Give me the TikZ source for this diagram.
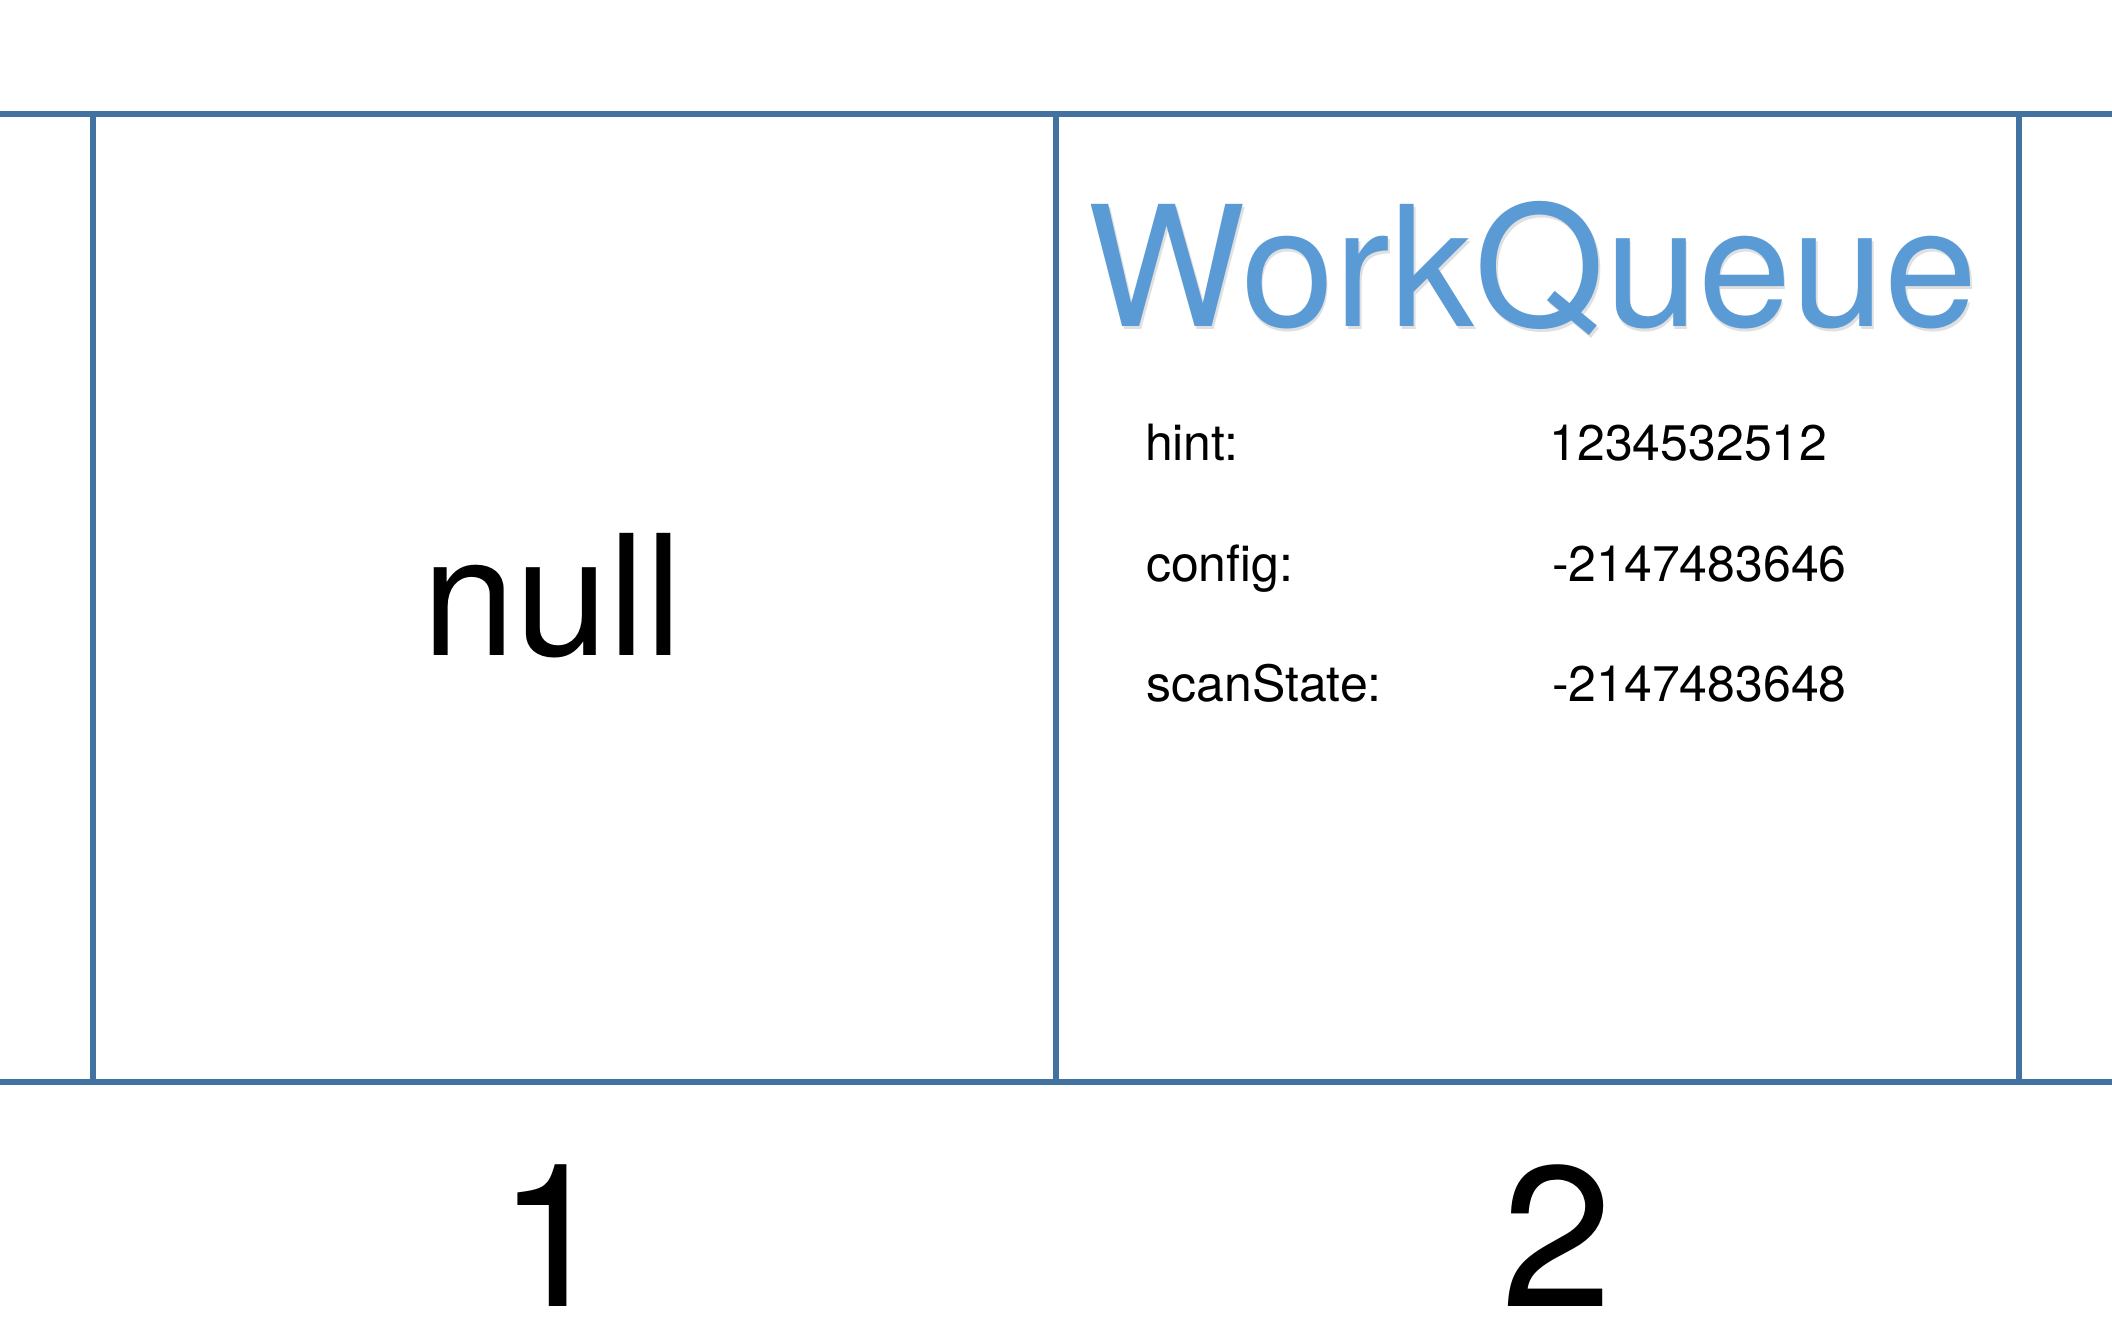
\documentclass[tikz,border=0pt]{standalone}
\usepackage{fontspec}
\setmainfont{TeX Gyre Heros}
\definecolor{gridline}{RGB}{66,114,159}
\definecolor{titleblue}{RGB}{91,155,213}
\tikzset{
  gridrule/.style={draw=gridline, line width=5.7pt},
  txt/.style={inner sep=0pt, outer sep=0pt, anchor=base west, text=black},
  fieldtxt/.style={txt, font=\fontsize{50}{60}\selectfont},
  bigtxt/.style={txt, font=\fontsize{167.6}{200}\selectfont},
  idxtxt/.style={txt, font=\fontsize{200}{240}\selectfont},
  titletxt/.style={txt, text=titleblue, font=\fontsize{167.6}{200}\selectfont},
  shadowtxt/.style={txt, text=black, opacity=0.12, font=\fontsize{167.6}{200}\selectfont}
}
\begin{document}
\begin{tikzpicture}[x=1pt, y=-1pt]
\useasboundingbox[fill=white] (0,0) rectangle (2112,1340);
% grid
\coordinate (tl) at (0,114);
\coordinate (tr) at (2112,114);
\coordinate (bl) at (0,1082);
\coordinate (br) at (2112,1082);
\coordinate (v1t) at (93,114);
\coordinate (v1b) at (93,1082);
\coordinate (v2t) at (1056,114);
\coordinate (v2b) at (1056,1082);
\coordinate (v3t) at (2019,114);
\coordinate (v3b) at (2019,1082);
\draw[gridrule] (tl) -- (tr);
\draw[gridrule] (bl) -- (br);
\draw[gridrule] (v1t) -- (v1b);
\draw[gridrule] (v2t) -- (v2b);
\draw[gridrule] (v3t) -- (v3b);
% cell 1
\node[bigtxt] (null) at (422,655.7) {null};
% cell 2
\node[shadowtxt] (titleshadow) at (1089.5,329.5) {WorkQueue};
\node[titletxt] (title) at (1087.8,326.6) {WorkQueue};
\node[fieldtxt] (hintk) at (1145,460) {hint:};
\node[fieldtxt] (hintv) at (1549.5,460) {1234532512};
\node[fieldtxt] (confk) at (1146,581) {config:};
\node[fieldtxt] (confv) at (1552,581) {-2147483646};
\node[fieldtxt] (scank) at (1146.5,701) {scanState:};
\node[fieldtxt] (scanv) at (1552,701) {-2147483648};
% indices
\node[idxtxt] (idx1) at (497.5,1306.7) {1};
\node[idxtxt] (idx2) at (1501,1306.7) {2};
\end{tikzpicture}
\end{document}
